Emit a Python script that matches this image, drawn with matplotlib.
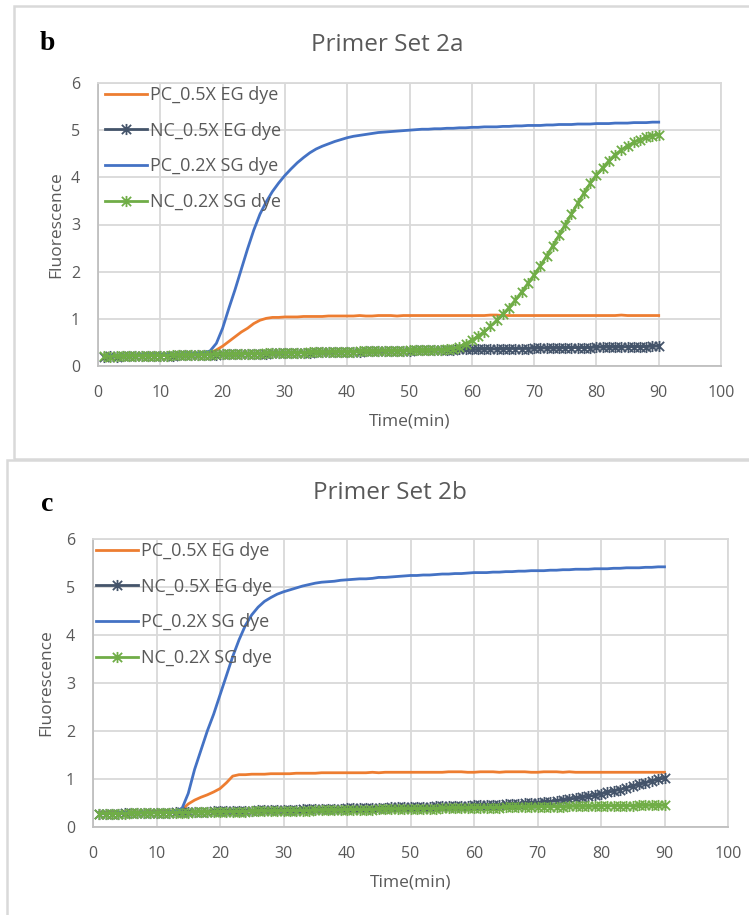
import matplotlib.pyplot as plt
from matplotlib.patches import Rectangle
from matplotlib.path import Path

plt.rcParams['font.family'] = ['Open Sans', 'DejaVu Sans']

# time in minutes, one reading per minute
time_min = list(range(1, 91))

series_names = ['PC_0.5X EG dye', 'NC_0.5X EG dye', 'PC_0.2X SG dye', 'NC_0.2X SG dye']

# panel b - Primer Set 2a
b_pc_eg = [0.22, 0.22, 0.22, 0.22, 0.23, 0.23, 0.23, 0.23, 0.23, 0.24,
           0.24, 0.24, 0.24, 0.25, 0.25, 0.25, 0.26, 0.28, 0.34, 0.42,
           0.52, 0.62, 0.72, 0.80, 0.90, 0.97, 1.01, 1.03, 1.03, 1.04,
           1.04, 1.04, 1.05, 1.05, 1.05, 1.05, 1.06, 1.06, 1.06, 1.06,
           1.06, 1.07, 1.06, 1.06, 1.07, 1.07, 1.07, 1.06, 1.07, 1.07,
           1.07, 1.07, 1.07, 1.07, 1.07, 1.07, 1.07, 1.07, 1.07, 1.07,
           1.07, 1.07, 1.08, 1.08, 1.07, 1.07, 1.07, 1.07, 1.07, 1.07,
           1.07, 1.07, 1.07, 1.07, 1.07, 1.07, 1.07, 1.07, 1.07, 1.07,
           1.07, 1.07, 1.07, 1.08, 1.07, 1.07, 1.07, 1.07, 1.07, 1.07]
b_nc_eg = [0.20, 0.21, 0.20, 0.21, 0.21, 0.21, 0.22, 0.21, 0.22, 0.22,
           0.22, 0.22, 0.23, 0.23, 0.23, 0.23, 0.24, 0.24, 0.24, 0.25,
           0.25, 0.25, 0.25, 0.26, 0.26, 0.26, 0.26, 0.27, 0.27, 0.27,
           0.28, 0.28, 0.28, 0.28, 0.29, 0.29, 0.29, 0.29, 0.30, 0.30,
           0.30, 0.30, 0.31, 0.31, 0.31, 0.31, 0.32, 0.32, 0.32, 0.32,
           0.33, 0.33, 0.33, 0.33, 0.34, 0.34, 0.34, 0.35, 0.35, 0.35,
           0.35, 0.36, 0.36, 0.36, 0.36, 0.37, 0.37, 0.37, 0.37, 0.38,
           0.38, 0.38, 0.38, 0.38, 0.39, 0.39, 0.39, 0.39, 0.39, 0.40,
           0.40, 0.40, 0.40, 0.40, 0.41, 0.41, 0.41, 0.41, 0.42, 0.42]
b_pc_sg = [0.22, 0.22, 0.23, 0.23, 0.23, 0.23, 0.24, 0.24, 0.24, 0.24,
           0.25, 0.25, 0.25, 0.26, 0.26, 0.27, 0.28, 0.32, 0.48, 0.80,
           1.22, 1.62, 2.05, 2.48, 2.88, 3.22, 3.48, 3.70, 3.88, 4.04,
           4.18, 4.31, 4.42, 4.52, 4.60, 4.66, 4.71, 4.76, 4.80, 4.84,
           4.87, 4.89, 4.91, 4.93, 4.95, 4.96, 4.97, 4.98, 4.99, 5.00,
           5.01, 5.02, 5.02, 5.03, 5.03, 5.04, 5.04, 5.05, 5.05, 5.06,
           5.06, 5.07, 5.07, 5.07, 5.08, 5.08, 5.09, 5.09, 5.10, 5.10,
           5.10, 5.11, 5.11, 5.12, 5.12, 5.12, 5.13, 5.13, 5.13, 5.14,
           5.14, 5.14, 5.15, 5.15, 5.15, 5.16, 5.16, 5.16, 5.17, 5.17]
b_nc_sg = [0.21, 0.20, 0.21, 0.21, 0.21, 0.22, 0.21, 0.22, 0.22, 0.22,
           0.22, 0.23, 0.23, 0.23, 0.23, 0.24, 0.24, 0.24, 0.25, 0.25,
           0.25, 0.25, 0.26, 0.26, 0.26, 0.26, 0.27, 0.27, 0.27, 0.28,
           0.28, 0.28, 0.28, 0.29, 0.29, 0.29, 0.29, 0.30, 0.30, 0.30,
           0.30, 0.31, 0.31, 0.31, 0.31, 0.32, 0.32, 0.32, 0.32, 0.33,
           0.33, 0.33, 0.33, 0.34, 0.34, 0.35, 0.37, 0.41, 0.47, 0.55,
           0.63, 0.73, 0.84, 0.97, 1.10, 1.24, 1.40, 1.57, 1.75, 1.93,
           2.12, 2.33, 2.55, 2.77, 3.00, 3.22, 3.45, 3.67, 3.87, 4.05,
           4.20, 4.35, 4.48, 4.58, 4.67, 4.74, 4.80, 4.85, 4.88, 4.90]

# panel c - Primer Set 2b
c_pc_eg = [0.30, 0.30, 0.30, 0.30, 0.31, 0.31, 0.31, 0.31, 0.32, 0.32,
           0.32, 0.33, 0.33, 0.36, 0.48, 0.56, 0.62, 0.67, 0.73, 0.80,
           0.92, 1.06, 1.09, 1.09, 1.10, 1.10, 1.10, 1.11, 1.11, 1.11,
           1.11, 1.12, 1.12, 1.12, 1.12, 1.13, 1.13, 1.13, 1.13, 1.13,
           1.13, 1.13, 1.13, 1.14, 1.13, 1.14, 1.14, 1.14, 1.14, 1.14,
           1.14, 1.14, 1.14, 1.14, 1.14, 1.15, 1.15, 1.15, 1.14, 1.14,
           1.15, 1.15, 1.15, 1.14, 1.15, 1.15, 1.15, 1.15, 1.14, 1.14,
           1.15, 1.15, 1.15, 1.14, 1.15, 1.14, 1.14, 1.14, 1.14, 1.14,
           1.14, 1.14, 1.14, 1.14, 1.14, 1.14, 1.14, 1.14, 1.14, 1.14]
c_nc_eg = [0.27, 0.28, 0.28, 0.28, 0.29, 0.29, 0.29, 0.29, 0.30, 0.30,
           0.30, 0.30, 0.31, 0.31, 0.31, 0.32, 0.32, 0.32, 0.33, 0.33,
           0.33, 0.34, 0.34, 0.34, 0.34, 0.35, 0.35, 0.35, 0.36, 0.36,
           0.36, 0.36, 0.37, 0.37, 0.37, 0.38, 0.38, 0.38, 0.38, 0.39,
           0.39, 0.39, 0.40, 0.40, 0.40, 0.40, 0.41, 0.41, 0.41, 0.42,
           0.42, 0.42, 0.42, 0.43, 0.43, 0.43, 0.44, 0.44, 0.44, 0.45,
           0.45, 0.45, 0.46, 0.46, 0.47, 0.47, 0.48, 0.49, 0.50, 0.51,
           0.52, 0.53, 0.55, 0.56, 0.58, 0.60, 0.62, 0.64, 0.66, 0.69,
           0.72, 0.75, 0.78, 0.82, 0.85, 0.89, 0.92, 0.96, 0.99, 1.02]
c_pc_sg = [0.29, 0.29, 0.29, 0.30, 0.30, 0.30, 0.30, 0.31, 0.31, 0.31,
           0.31, 0.32, 0.33, 0.38, 0.70, 1.20, 1.60, 2.00, 2.35, 2.75,
           3.15, 3.55, 3.90, 4.20, 4.42, 4.58, 4.70, 4.78, 4.85, 4.90,
           4.94, 4.98, 5.02, 5.05, 5.08, 5.10, 5.11, 5.12, 5.14, 5.15,
           5.16, 5.17, 5.17, 5.18, 5.20, 5.20, 5.21, 5.22, 5.23, 5.24,
           5.24, 5.25, 5.25, 5.26, 5.27, 5.27, 5.28, 5.28, 5.29, 5.30,
           5.30, 5.30, 5.31, 5.31, 5.32, 5.32, 5.33, 5.33, 5.34, 5.34,
           5.34, 5.35, 5.35, 5.36, 5.36, 5.37, 5.37, 5.37, 5.38, 5.38,
           5.38, 5.39, 5.39, 5.40, 5.40, 5.40, 5.41, 5.41, 5.42, 5.42]
c_nc_sg = [0.28, 0.28, 0.28, 0.28, 0.28, 0.29, 0.29, 0.29, 0.29, 0.29,
           0.30, 0.30, 0.30, 0.30, 0.30, 0.31, 0.31, 0.31, 0.31, 0.31,
           0.32, 0.32, 0.32, 0.32, 0.33, 0.33, 0.33, 0.33, 0.33, 0.34,
           0.34, 0.34, 0.34, 0.34, 0.35, 0.35, 0.35, 0.35, 0.35, 0.36,
           0.36, 0.36, 0.36, 0.36, 0.37, 0.37, 0.37, 0.37, 0.37, 0.38,
           0.38, 0.38, 0.38, 0.38, 0.39, 0.39, 0.39, 0.39, 0.39, 0.40,
           0.40, 0.40, 0.40, 0.40, 0.41, 0.41, 0.41, 0.41, 0.41, 0.42,
           0.42, 0.42, 0.42, 0.42, 0.43, 0.43, 0.43, 0.43, 0.43, 0.44,
           0.44, 0.44, 0.44, 0.44, 0.44, 0.45, 0.45, 0.45, 0.45, 0.45]

x_ticks = [0, 10, 20, 30, 40, 50, 60, 70, 80, 90, 100]
y_ticks = [0, 1, 2, 3, 4, 5, 6]

colors = ['#ED7D31', '#44546A', '#4472C4', '#70AD47']

# Excel "star" marker: an x with a vertical bar through it
star = Path([(-1, -1), (1, 1), (-1, 1), (1, -1), (0, -1.2), (0, 1.2)],
            [Path.MOVETO, Path.LINETO, Path.MOVETO, Path.LINETO, Path.MOVETO, Path.LINETO])
markers = [None, star, None, star]

W, H = 749, 915
gray_text = '#595959'


def fx(x):
    return x / W


def fy(y):
    return 1 - y / H


def draw_panel(fig, box, axes_px, letter, letter_px, title, title_px, data, legend_px, ylabel_x):
    """Draws one Excel-like chart: the frame, the axes, the curves and the texts."""
    # frame around the chart
    x0, y0, x1, y1 = box
    fig.add_artist(Rectangle((fx(x0), fy(y1)), fx(x1 - x0), (y1 - y0) / H,
                             transform=fig.transFigure, fill=False,
                             edgecolor='#D9D9D9', lw=1.8))

    left, top, right, bottom = axes_px
    ax = fig.add_axes([fx(left), fy(bottom), (right - left) / W, (bottom - top) / H])

    for i in range(4):
        if markers[i] is None:
            ax.plot(time_min, data[i], color=colors[i], lw=2, label=series_names[i])
        else:
            ax.plot(time_min, data[i], color=colors[i], lw=2, marker=markers[i],
                    markersize=8, markeredgewidth=1.3, label=series_names[i])

    ax.set_xlim(0, 100)
    ax.set_ylim(0, 6)
    ax.set_xticks(x_ticks)
    ax.set_yticks(y_ticks)
    ax.grid(True, color='#D9D9D9', lw=1.3)
    ax.set_axisbelow(True)
    ax.tick_params(length=0, labelsize=11.5, labelcolor=gray_text)
    ax.tick_params(axis='x', pad=14)
    ax.tick_params(axis='y', pad=13)
    for side in ['top', 'right']:
        ax.spines[side].set_color('#D9D9D9')
        ax.spines[side].set_linewidth(1.3)
    for side in ['bottom', 'left']:
        ax.spines[side].set_color('#BFBFBF')
        ax.spines[side].set_linewidth(1.3)

    ax.set_xlabel('Time(min)', fontsize=12.5, color=gray_text, labelpad=9)
    ax.set_ylabel('Fluorescence', fontsize=12.5, color=gray_text)
    ax.yaxis.set_label_coords((ylabel_x - left) / (right - left), 0.5)

    lx, ly = legend_px
    ax.legend(loc='upper left',
              bbox_to_anchor=((lx - left) / (right - left), 1 - (ly - top) / (bottom - top)),
              frameon=False, fontsize=13, labelcolor=gray_text, borderpad=0,
              borderaxespad=0, handlelength=2.3, handletextpad=0.2, labelspacing=0.98)

    fig.text(fx(title_px[0]), fy(title_px[1]), title, fontsize=17.5, color=gray_text,
             ha='center', va='center')
    fig.text(fx(letter_px[0]), fy(letter_px[1]), letter, fontsize=20, fontweight='bold',
             family='Liberation Serif', color='black', ha='center', va='center')
    return ax


fig = plt.figure(figsize=(W / 100, H / 100), dpi=100)

draw_panel(fig, (14, 6, 770, 459), (98, 83, 721, 366), 'b', (47, 44),
           'Primer Set 2a', (387, 45), [b_pc_eg, b_nc_eg, b_pc_sg, b_nc_sg],
           (105, 86), 64)

draw_panel(fig, (7, 460, 770, 930), (93, 539, 728, 827), 'c', (47, 505),
           'Primer Set 2b', (390, 493), [c_pc_eg, c_nc_eg, c_pc_sg, c_nc_sg],
           (96, 542), 54)

plt.savefig('out.png', dpi=100)
